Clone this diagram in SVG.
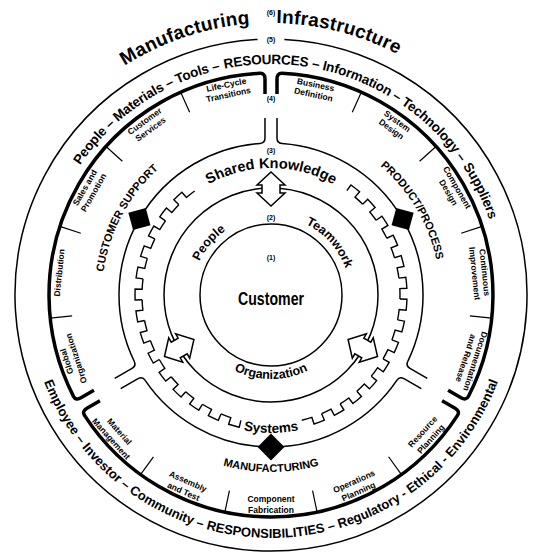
<svg xmlns="http://www.w3.org/2000/svg" width="538" height="553" viewBox="0 0 538 553">
<style>
.ln{fill:none;stroke:#000;stroke-width:1.5}
.gr{fill:none;stroke:#000;stroke-width:1.4}
.tk{fill:none;stroke:#000;stroke-width:3.5}
.dv{fill:none;stroke:#000;stroke-width:1.2}
.t{font-family:"Liberation Sans",Arial,sans-serif;font-weight:bold;fill:#000}
.seg{font-size:8.5px;text-anchor:middle}
.num{font-size:7px;text-anchor:middle}
.inf{font-size:19px;letter-spacing:0.2px}
.res{font-size:13.5px;letter-spacing:-0.2px}
.rsp{font-size:13px}
.arw{fill:#fff;stroke:#000;stroke-width:1.5}
.dia{fill:#000}
</style>
<defs>
<path id="pInfra" d="M15.4 202 A272 272 0 0 1 526.6 202"/>
<path id="pRes" d="M40 295 A231 231 0 0 1 502 295"/>
<path id="pResp" d="M28 295 A243 243 0 0 0 514 295"/>
<path id="tc169" d="M271 464 A169 169 0 1 1 271 126 A169 169 0 1 1 271 464"/>
<path id="tc127" d="M271 422 A127 127 0 1 1 271 168 A127 127 0 1 1 271 422"/>
<path id="tc79" d="M271 374 A79 79 0 1 1 271 216 A79 79 0 1 1 271 374"/>
<path id="bc177" d="M94 295 A177 177 0 0 0 448 295"/>
<path id="bc138" d="M133 295 A138 138 0 0 0 409 295"/>
<path id="bc84" d="M187 295 A84 84 0 0 0 355 295"/>
<path id="tooth" d="M129 0 L136 0 A136 136 0 0 1 135.552 11.025 L128.575 10.458 A129 129 0 0 1 127.304 20.847"/>
<g id="g7">
<use href="#tooth"/>
<use href="#tooth" transform="rotate(9.3)"/>
<use href="#tooth" transform="rotate(18.6)"/>
<use href="#tooth" transform="rotate(27.9)"/>
<use href="#tooth" transform="rotate(37.2)"/>
<use href="#tooth" transform="rotate(46.5)"/>
<use href="#tooth" transform="rotate(55.8)"/>
</g>
<path id="c3" d="M277 118 L277 138 Q277 143.1 282 143.4 A152 152 0 0 1 407.8 361.3 Q405.5 365.75 409.96 368.3 L427.3 378.3"/>
<g id="seg4">
<path class="tk" d="M277 94 L277 79 Q277 73.1 282 73.27 A222 222 0 0 1 468.5 396.3 Q466.2 400.75 461.06 397.8 L448.07 390.3"/>
<path class="dv" d="M352.3 112.3 L361.3 92.2 M419.6 161.2 L436 146.5 M461.2 233.2 L482.1 226.4 M469.9 315.9 L491.8 318.2"/>
</g>
<polygon id="arrow" class="arw" points="271,172 285,185 280,185 280,193 285,193 271,206 257,193 262,193 262,185 257,185"/>
</defs>

<g id="infrastructure">
<path class="ln" d="M284.4 39.4 A256 256 0 1 1 257.6 39.4"/>
<text class="t num" x="271" y="15">(6)</text>
<text class="t num" x="271" y="42">(5)</text>
<text class="t inf"><textPath href="#pInfra" startOffset="177.75">Manu</textPath></text>
<text class="t inf"><textPath href="#pInfra" startOffset="228.16">factur</textPath></text>
<text class="t inf"><textPath href="#pInfra" startOffset="282.14">ing</textPath></text>
<text class="t inf"><textPath href="#pInfra" startOffset="337.51">Infra</textPath></text>
<text class="t inf"><textPath href="#pInfra" startOffset="379.68">struc</textPath></text>
<text class="t inf"><textPath href="#pInfra" startOffset="427.13">ture</textPath></text>
</g>

<g id="resources">
<text class="t res"><textPath href="#pRes" startOffset="137.85">People –</textPath></text>
<text class="t res"><textPath href="#pRes" startOffset="195.33">Materials –</textPath></text>
<text class="t res"><textPath href="#pRes" startOffset="266.46">Tools –</textPath></text>
<text class="t res"><textPath href="#pRes" startOffset="315.87">RESOURCES –</textPath></text>
<text class="t res"><textPath href="#pRes" startOffset="413.99">Infor</textPath></text>
<text class="t res"><textPath href="#pRes" startOffset="442.99">mation –</textPath></text>
<text class="t res"><textPath href="#pRes" startOffset="500.45">Technology –</textPath></text>
<text class="t res"><textPath href="#pRes" startOffset="588.62">Suppliers</textPath></text>
</g>

<g id="responsibilities">
<text class="t rsp"><textPath href="#pResp" startOffset="88.72">Employee –</textPath></text>
<text class="t rsp"><textPath href="#pResp" startOffset="164.59">Investor –</textPath></text>
<text class="t rsp"><textPath href="#pResp" startOffset="229.62">Community –</textPath></text>
<text class="t rsp"><textPath href="#pResp" startOffset="315.58">RESPONSIBILITIES –</textPath></text>
<text class="t rsp"><textPath href="#pResp" startOffset="450.68">Regulatory -</textPath></text>
<text class="t rsp"><textPath href="#pResp" startOffset="530.14">Ethical -</textPath></text>
<text class="t rsp"><textPath href="#pResp" startOffset="584.33">Environmental</textPath></text>
</g>

<g id="segment-ring">
<use href="#seg4"/>
<use href="#seg4" transform="rotate(120 271 295)"/>
<use href="#seg4" transform="rotate(240 271 295)"/>
<text class="t num" x="271" y="101">(4)</text>
</g>

<g id="customer-support">
<text class="t" font-size="11" text-anchor="middle"><textPath href="#tc169" startOffset="348.1">CUSTOMER SUPPORT</textPath></text>
<rect class="dia" x="-9" y="-9" width="18" height="18" transform="translate(139.4 219) rotate(255)"/>
<text class="t seg" x="271" y="83" transform="rotate(-12 271 295)">Life-Cycle</text>
<text class="t seg" x="271" y="93" transform="rotate(-12 271 295)">Transitions</text>
<text class="t seg" x="271" y="83" transform="rotate(-36 271 295)">Customer</text>
<text class="t seg" x="271" y="93" transform="rotate(-36 271 295)">Services</text>
<text class="t seg" x="271" y="83" transform="rotate(-60 271 295)">Sales and</text>
<text class="t seg" x="271" y="93" transform="rotate(-60 271 295)">Promotion</text>
<text class="t seg" x="271" y="85" transform="rotate(-84 271 295)">Distribution</text>
<text class="t seg" x="271" y="83" transform="rotate(-108 271 295)">Global</text>
<text class="t seg" x="271" y="93" transform="rotate(-108 271 295)">Organization</text>
</g>

<g id="product-process">
<text class="t" font-size="11" text-anchor="middle"><textPath href="#tc169" startOffset="705">PRODUCT/PROCESS</textPath></text>
<rect class="dia" x="-9" y="-9" width="18" height="18" transform="translate(402.6 219) rotate(15)"/>
<text class="t seg" x="271" y="83" transform="rotate(12 271 295)">Business</text>
<text class="t seg" x="271" y="93" transform="rotate(12 271 295)">Definition</text>
<text class="t seg" x="271" y="83" transform="rotate(36 271 295)">System</text>
<text class="t seg" x="271" y="93" transform="rotate(36 271 295)">Design</text>
<text class="t seg" x="271" y="83" transform="rotate(60 271 295)">Component</text>
<text class="t seg" x="271" y="93" transform="rotate(60 271 295)">Design</text>
<text class="t seg" x="271" y="83" transform="rotate(84 271 295)">Continuous</text>
<text class="t seg" x="271" y="93" transform="rotate(84 271 295)">Improvement</text>
<text class="t seg" x="271" y="83" transform="rotate(108 271 295)">Documentation</text>
<text class="t seg" x="271" y="93" transform="rotate(108 271 295)">and Release</text>
</g>

<g id="manufacturing">
<text class="t" font-size="11" text-anchor="middle"><textPath href="#bc177" startOffset="50%">MANUFACTURING</textPath></text>
<rect class="dia" x="-9.5" y="-9.5" width="19" height="19" transform="translate(271 447) rotate(135)"/>
<text class="t seg" x="271" y="502" transform="rotate(-48 271 295)">Resource</text>
<text class="t seg" x="271" y="513" transform="rotate(-48 271 295)">Planning</text>
<text class="t seg" x="271" y="502" transform="rotate(-24 271 295)">Operations</text>
<text class="t seg" x="271" y="513" transform="rotate(-24 271 295)">Planning</text>
<text class="t seg" x="271" y="502">Component</text>
<text class="t seg" x="271" y="513">Fabrication</text>
<text class="t seg" x="271" y="502" transform="rotate(24 271 295)">Assembly</text>
<text class="t seg" x="271" y="513" transform="rotate(24 271 295)">and Test</text>
<text class="t seg" x="271" y="502" transform="rotate(48 271 295)">Material</text>
<text class="t seg" x="271" y="513" transform="rotate(48 271 295)">Management</text>
</g>

<g id="integration-ring">
<use class="ln" href="#c3"/>
<use class="ln" href="#c3" transform="rotate(120 271 295)"/>
<use class="ln" href="#c3" transform="rotate(240 271 295)"/>
<text class="t num" x="271" y="153">(3)</text>
</g>

<g id="shared-knowledge">
<text class="t" font-size="14.5" text-anchor="middle"><textPath href="#tc127" startOffset="399">Shared Knowledge</textPath></text>
</g>

<g id="systems">
<use class="gr" href="#g7" transform="translate(271 295) rotate(103.5)"/>
<use class="gr" href="#g7" transform="translate(271 295) rotate(168.6)"/>
<use class="gr" href="#g7" transform="translate(271 295) rotate(306)"/>
<use class="gr" href="#g7" transform="translate(271 295) rotate(371.1)"/>
<text class="t" font-size="13.5" text-anchor="middle"><textPath href="#bc138" startOffset="50%">Systems</textPath></text>
</g>

<g id="people-ring">
<circle class="ln" cx="271" cy="295" r="107"/>
<text class="t num" x="271" y="220">(2)</text>
</g>
<g id="people"><text class="t" font-size="12.5" text-anchor="middle"><textPath href="#tc79" startOffset="179.2">People</textPath></text></g>
<g id="teamwork"><text class="t" font-size="12.5" text-anchor="middle"><textPath href="#tc79" startOffset="314.4">Teamwork</textPath></text></g>
<g id="organization"><text class="t" font-size="12.5" text-anchor="middle"><textPath href="#bc84" startOffset="50%">Organization</textPath></text></g>

<g id="customer">
<circle class="ln" cx="271" cy="295" r="71"/>
<text class="t num" x="271" y="260">(1)</text>
<text class="t" x="271" y="305" font-size="18" text-anchor="middle" textLength="66" lengthAdjust="spacingAndGlyphs">Customer</text>
</g>

<g id="connectors">
<use href="#arrow"/>
<use href="#arrow" transform="rotate(120 271 295)"/>
<use href="#arrow" transform="rotate(240 271 295)"/>
</g>
</svg>
